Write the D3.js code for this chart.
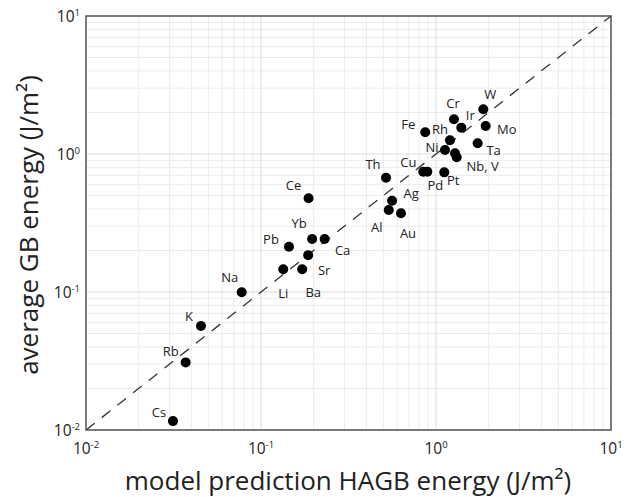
<!DOCTYPE html>
<html>
<head>
<meta charset="utf-8">
<script src="https://cdn.jsdelivr.net/npm/d3@7"></script>
<style>
  body { margin: 0; background: #fff; }
  text { font-family: "Open Sans", "Noto Sans", sans-serif; fill: #222; }
</style>
</head>
<body>
<script>
// element labels, model prediction (x) and average GB energy (y), J/m^2
const elements = ["Cs", "Rb", "K", "Na", "Ce", "Yb", "Ca", "Pb", "Sr", "Li", "Ba",
  "Th", "Cu", "Pd", "Pt", "Ag", "Al", "Au", "W", "Cr", "Ir", "Mo", "Fe", "Rh", "Ta", "Ni", "Nb", "V"];
const predicted = [0.0314, 0.0371, 0.0454, 0.0776, 0.187, 0.196, 0.231, 0.1445, 0.186, 0.134, 0.172,
  0.518, 0.846, 0.892, 1.115, 0.561, 0.537, 0.631, 1.863, 1.267, 1.395, 1.923, 0.868, 1.202, 1.73, 1.125, 1.284, 1.313];
const measured = [0.0116, 0.0309, 0.0567, 0.0995, 0.478, 0.242, 0.242, 0.213, 0.185, 0.146, 0.146,
  0.673, 0.745, 0.745, 0.736, 0.459, 0.393, 0.372, 2.11, 1.784, 1.552, 1.595, 1.436, 1.256, 1.196, 1.069, 1.012, 0.946];
const tickExponents = [-2, -1, 0, 1];

// label text and offset from its dot (px); "" = no label drawn for that dot
const labelText = ["Cs", "Rb", "K", "Na", "Ce", "Yb", "Ca", "Pb", "Sr", "Li", "Ba",
  "Th", "Cu", "Pd", "Pt", "Ag", "Al", "Au", "W", "Cr", "Ir", "Mo", "Fe", "Rh", "Ta", "Ni", "", "Nb, V"];
const labelOffset = [[-14, -9], [-15, -11], [-12, -10], [-12, -15], [-15, -13], [-13, -16], [18, 11], [-18, -8],
  [16, 15], [0, 24], [11, 23], [-13, -14], [-15, -10], [8, 13], [9, 8], [19, -8], [-12, 17], [7, 20],
  [7, -15], [-1, -16], [9, -13], [21, 3], [-17, -8], [-10, -11], [16, 7], [-13, -3], [0, 0], [26, 9]];

const plotL = 86, plotR = 611, plotT = 16, plotB = 430;

const svg = d3.select("body").append("svg")
  .attr("width", 624)
  .attr("height", 497);

const x = d3.scaleLog().domain([0.01, 10]).range([plotL, plotR]);
const y = d3.scaleLog().domain([0.01, 10]).range([plotB, plotT]);

// grid lines, minor first then decades
let minor = [];
for (let e = -2; e < 1; e++) {
  for (let m = 2; m <= 9; m++) minor.push(m * Math.pow(10, e));
}
const majors = tickExponents.map(e => Math.pow(10, e));

const grid = svg.append("g");
grid.selectAll(".vx")
  .data(minor)
  .enter().append("line")
    .attr("x1", d => x(d)).attr("x2", d => x(d))
    .attr("y1", plotT).attr("y2", plotB)
    .attr("stroke", "#ececec");
grid.selectAll(".hy")
  .data(minor)
  .enter().append("line")
    .attr("y1", d => y(d)).attr("y2", d => y(d))
    .attr("x1", plotL).attr("x2", plotR)
    .attr("stroke", "#ececec");
grid.selectAll(".vmaj")
  .data(majors)
  .enter().append("line")
    .attr("x1", d => x(d)).attr("x2", d => x(d))
    .attr("y1", plotT).attr("y2", plotB)
    .attr("stroke", "#dcdcdc");
grid.selectAll(".hmaj")
  .data(majors)
  .enter().append("line")
    .attr("y1", d => y(d)).attr("y2", d => y(d))
    .attr("x1", plotL).attr("x2", plotR)
    .attr("stroke", "#dcdcdc");

// y = x reference line
svg.append("line")
  .attr("x1", x(0.01)).attr("y1", y(0.01))
  .attr("x2", x(10)).attr("y2", y(10))
  .attr("stroke", "#333")
  .attr("stroke-width", 1.3)
  .attr("stroke-dasharray", "11,9");

// frame
svg.append("rect")
  .attr("x", plotL).attr("y", plotT)
  .attr("width", plotR - plotL).attr("height", plotB - plotT)
  .attr("fill", "none")
  .attr("stroke", "#555")
  .attr("stroke-width", 1.5);

// tick labels as 10 with superscript exponent
function powLabel(sel, e) {
  sel.append("tspan").text("10");
  sel.append("tspan")
    .attr("dy", -6)
    .attr("font-size", 9.5)
    .text(e < 0 ? "-" + (-e) : e);
}

tickExponents.forEach(function(e) {
  svg.append("text")
    .attr("x", x(Math.pow(10, e)))
    .attr("y", 454)
    .attr("text-anchor", "middle")
    .attr("font-size", 15.5)
    .call(powLabel, e);

  svg.append("text")
    .attr("x", 80)
    .attr("y", y(Math.pow(10, e)) + 6)
    .attr("text-anchor", "end")
    .attr("font-size", 15.5)
    .call(powLabel, e);
});

// data points
const pts = elements.map((el, i) => ({ el: el, x: predicted[i], y: measured[i] }));

svg.selectAll(".dot")
  .data(pts)
  .enter().append("circle")
    .attr("cx", d => x(d.x))
    .attr("cy", d => y(d.y))
    .attr("r", 5)
    .attr("fill", "#000");

svg.selectAll(".label")
  .data(pts)
  .enter().append("text")
    .attr("x", (d, i) => x(d.x) + labelOffset[i][0])
    .attr("y", (d, i) => y(d.y) + labelOffset[i][1])
    .attr("text-anchor", "middle")
    .attr("dominant-baseline", "central")
    .attr("font-size", 13)
    .text((d, i) => labelText[i]);

// axis titles
svg.append("text")
  .attr("x", 348)
  .attr("y", 490)
  .attr("text-anchor", "middle")
  .attr("font-size", 26)
  .text("model prediction HAGB energy (J/m²)");

svg.append("text")
  .attr("transform", "translate(38, 225) rotate(-90)")
  .attr("text-anchor", "middle")
  .attr("font-size", 26)
  .text("average GB energy (J/m²)");
</script>
</body>
</html>
